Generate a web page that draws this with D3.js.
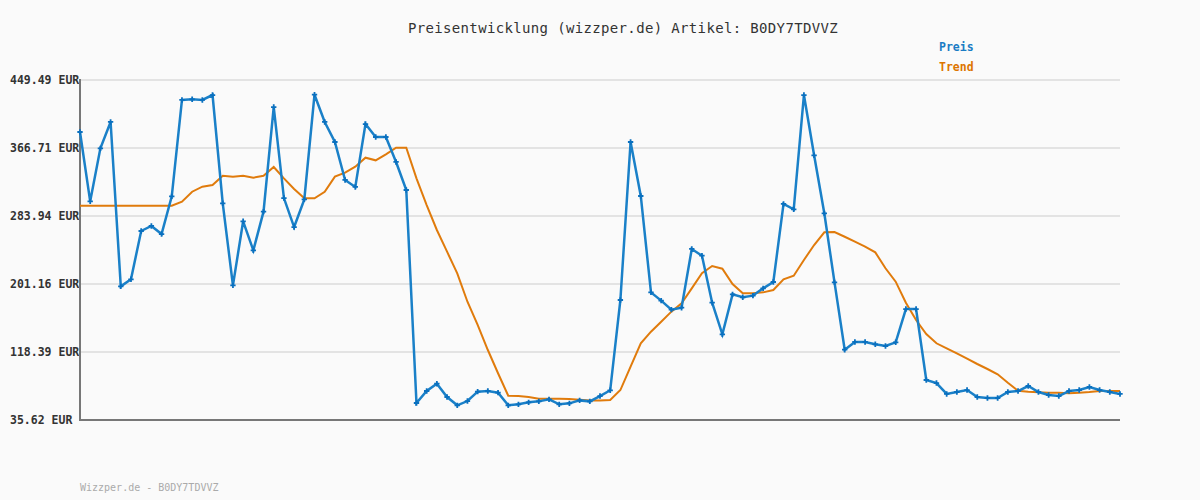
<!DOCTYPE html>
<html><head><meta charset="utf-8">
<script src="https://cdn.jsdelivr.net/npm/d3@7"></script>
<style>body{margin:0;background:#fafafa;} svg{display:block;}</style>
</head><body>
<script>
const title = "Preisentwicklung (wizzper.de) Artikel: B0DY7TDVVZ";
const footer = "Wizzper.de - B0DY7TDVVZ";
const seriesNames = ["Preis", "Trend"];
const yTicks = [35.62, 118.39, 201.16, 283.94, 366.71, 449.49];
const preis = [386.2,301.8,366.3,398.4,198.3,206.9,265.7,271.8,262.0,307.9,
425.2,426.0,425.2,431.2,299.4,199.5,277.5,242.2,289.2,416.6,
305.8,270.5,304.2,431.6,398.4,374.0,327.8,319.3,395.9,380.1,
380.1,349.7,315.6,56.3,70.9,79.8,63.6,53.5,58.7,70.1,
70.9,68.9,53.5,54.7,57.1,58.3,60.8,54.7,55.9,59.5,
58.3,64.8,71.8,181.7,374.0,308.3,191.0,180.9,169.9,172.3,
243.8,235.6,178.4,139.9,188.6,185.0,187.0,195.9,203.6,298.6,
292.1,431.2,357.8,287.2,203.2,121.2,130.6,130.6,127.8,125.7,
130.2,170.7,170.7,84.3,80.6,67.3,69.7,72.1,63.6,62.4,
62.4,69.7,70.9,77.0,69.7,66.0,64.8,70.9,72.1,75.8,
72.1,69.7,67.3];
const trend = [296.5,296.5,296.5,296.5,296.5,296.5,296.5,296.5,296.5,296.5,
301.4,313.5,319.6,321.7,333.0,331.8,333.0,330.6,333.0,343.6,
329.8,316.8,305.5,305.5,313.5,331.8,336.7,344.0,354.9,351.7,
359.0,367.1,367.1,329.8,297.3,266.9,240.5,214.2,179.6,151.3,
120.8,92.5,65.2,64.9,63.6,61.6,61.6,61.6,61.2,60.3,
59.5,59.5,59.9,72.1,100.5,129.0,143.1,155.3,167.5,177.6,
195.9,214.2,223.1,219.8,201.2,189.8,189.8,191.0,193.9,206.9,
211.3,230.4,248.6,264.1,264.5,258.7,252.7,246.6,239.7,220.3,
204.0,178.4,157.3,140.3,129.0,122.9,116.8,110.3,103.8,97.7,
91.2,81.0,71.3,70.1,69.3,68.9,68.9,68.1,68.9,69.7,
70.9,70.9,70.9];

const W = 1200, H = 500;
const svg = d3.select("body").append("svg").attr("width", W).attr("height", H)
  .style("background", "#fafafa");
const mono = "'DejaVu Sans Mono', 'Liberation Mono', monospace";

const x = d3.scaleLinear().domain([0, preis.length - 1]).range([80, 1120]);
const y = d3.scaleLinear().domain([35.62, 449.49]).range([420, 80]);

// grid
svg.append("g").selectAll("line").data(yTicks).join("line")
  .attr("x1", 80).attr("x2", 1120)
  .attr("y1", d => y(d)).attr("y2", d => y(d))
  .attr("stroke", "#e3e3e3").attr("stroke-width", 2);

// y labels
svg.append("g").selectAll("text").data(yTicks).join("text")
  .attr("x", 10).attr("y", d => y(d) + 4)
  .attr("font-family", mono).attr("font-weight", "bold").attr("font-size", 11.5)
  .attr("fill", "#333")
  .text(d => d.toFixed(2) + " EUR");

// axes lines
svg.append("line").attr("x1", 80).attr("x2", 80).attr("y1", 79).attr("y2", 421)
  .attr("stroke", "#777").attr("stroke-width", 2);
svg.append("line").attr("x1", 79).attr("x2", 1120).attr("y1", 420).attr("y2", 420)
  .attr("stroke", "#777").attr("stroke-width", 2);

const line = d3.line().x((d, i) => x(i)).y(d => y(d));
svg.append("path").datum(trend).attr("d", line)
  .attr("fill", "none").attr("stroke", "#e07b0c").attr("stroke-width", 2);
svg.append("path").datum(preis).attr("d", line)
  .attr("fill", "none").attr("stroke", "#1a80c8").attr("stroke-width", 2.5);

// markers
svg.append("g").selectAll("path").data(preis).join("path")
  .attr("transform", (d, i) => `translate(${x(i)},${y(d)})`)
  .attr("d", d3.symbol().type(d3.symbolCross).size(16))
  .attr("fill", "#0a70bf");

// title
svg.append("text").attr("x", 623).attr("y", 33).attr("text-anchor", "middle")
  .attr("font-family", mono).attr("font-size", 14).attr("letter-spacing", 0.35)
  .attr("fill", "#333").text(title);

// legend
const legColors = ["#1a7cc4", "#dd7500"];
svg.append("g").selectAll("text").data(seriesNames).join("text")
  .attr("x", 939).attr("y", (d, i) => 51 + i * 20)
  .attr("font-family", mono).attr("font-weight", "bold").attr("font-size", 11.5)
  .attr("fill", (d, i) => legColors[i]).text(d => d);

// footer
svg.append("text").attr("x", 80).attr("y", 491)
  .attr("font-family", mono).attr("font-size", 10)
  .attr("fill", "#aaa").text(footer);
</script>
</body></html>
